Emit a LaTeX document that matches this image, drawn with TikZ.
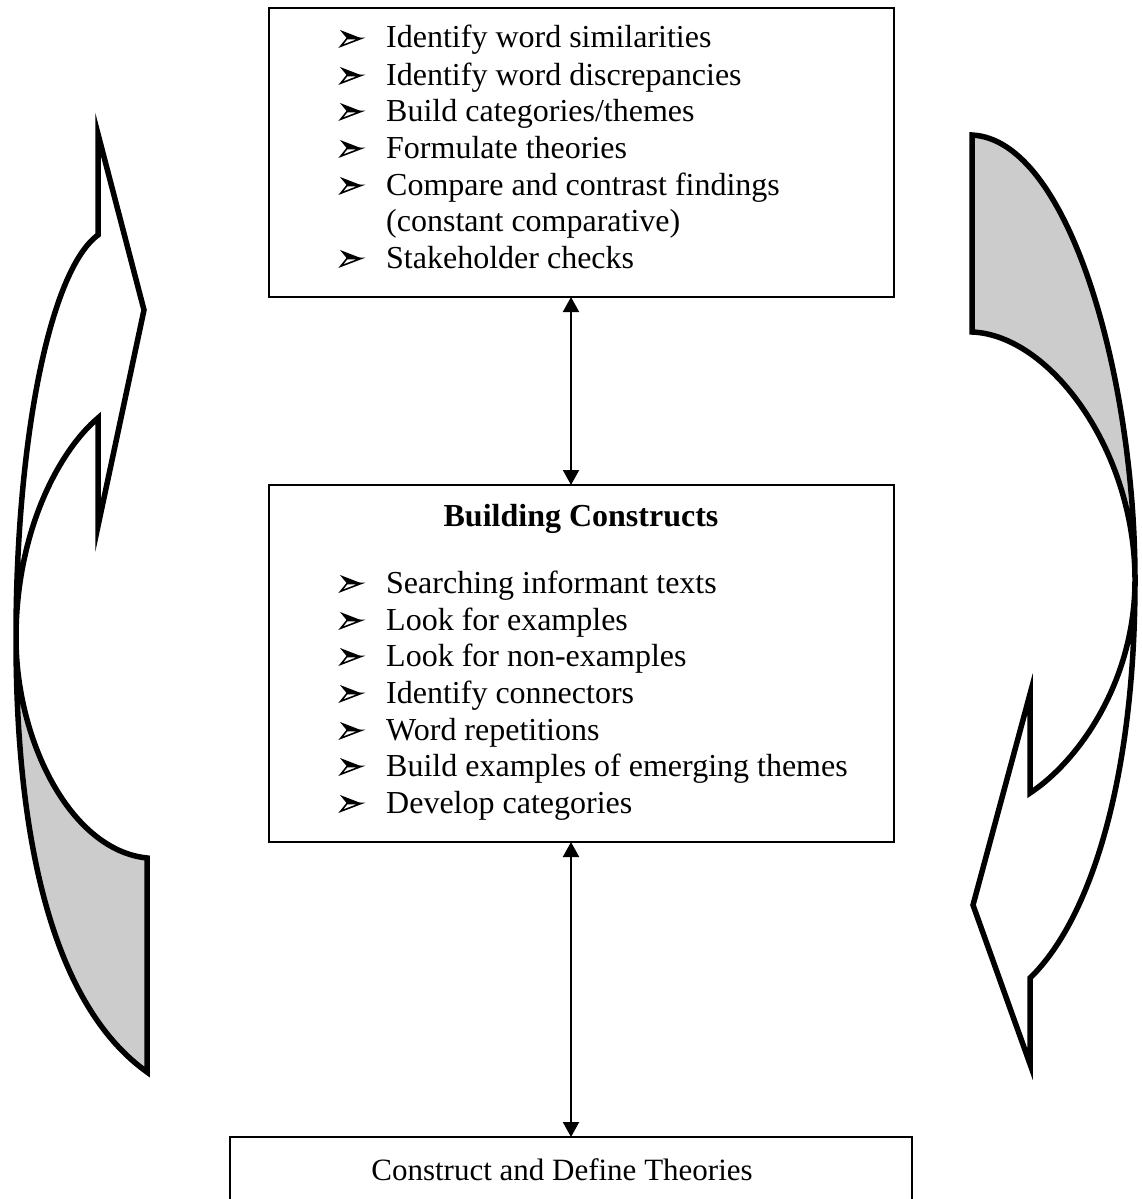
\documentclass[tikz,border=0pt]{standalone}
\usepackage{fontspec}
\setmainfont{Liberation Serif}
\usetikzlibrary{arrows.meta}
\begin{document}
\begin{tikzpicture}[x=1pt,y=-1pt,
  box/.style={draw, line width=2pt, inner sep=0pt, outer sep=0pt, anchor=north west},
  item/.style={anchor=base west, inner sep=0pt, font=\fontsize{32}{37}\selectfont},
  head/.style={anchor=base, inner sep=0pt, font=\fontsize{32}{37}\selectfont\bfseries},
  link/.style={line width=2pt, {Triangle[length=15pt,width=16pt]}-{Triangle[length=15pt,width=16pt]}},
  band/.style={line width=5.5pt, line join=miter, miter limit=30},
  shade/.style={fill=black!20},
  % three-d arrowhead bullet, drawn from its base point on the text baseline
  arrbullet/.pic={
    \fill[black] (0,-18) -- (22,-9.5) -- (7,-9.5) -- cycle;
    \filldraw[fill=white, draw=black, line width=1.6pt, line join=miter]
      (7,-9.5) -- (21,-9.5) -- (0.8,-1.8) -- cycle;
  }]
\useasboundingbox (0,0) rectangle (1141,1199);
\clip (0,0) rectangle (1141,1199);

% boxes
\node[box, minimum width=625pt, minimum height=289pt] (top) at (269,8) {};
\node[box, minimum width=625pt, minimum height=357pt] (mid) at (269,485) {};
\node[box, minimum width=682pt, minimum height=120pt] (bot) at (230,1137) {};

% first box
\foreach \y in {48, 85, 121, 158, 195, 268}
  \pic at (340,\y) {arrbullet};
\node[item] (t1) at (386,48) {Identify word similarities};
\node[item] (t2) at (386,85) {Identify word discrepancies};
\node[item] (t3) at (386,121) {Build categories/themes};
\node[item] (t4) at (386,158) {Formulate theories};
\node[item] (t5) at (386,195) {Compare and contrast findings};
\node[item] (t5b) at (386,231) {(constant comparative)};
\node[item] (t6) at (386,268) {Stakeholder checks};

% second box
\node[head] (mh) at (581,526) {Building Constructs};
\foreach \y in {593, 630, 666, 703, 740, 776, 813}
  \pic at (340,\y) {arrbullet};
\node[item] (m1) at (386,593) {Searching informant texts};
\node[item] (m2) at (386,630) {Look for examples};
\node[item] (m3) at (386,666) {Look for non-examples};
\node[item] (m4) at (386,703) {Identify connectors};
\node[item] (m5) at (386,740) {Word repetitions};
\node[item] (m6) at (386,776) {Build examples of emerging themes};
\node[item] (m7) at (386,813) {Develop categories};

% third box
\node[anchor=base, inner sep=0pt, font=\fontsize{31}{37}\selectfont] (bt) at (562,1180) {Construct and Define Theories};

% two-way connectors
\coordinate (ax) at (571,0);
\draw[link] (ax |- top.south) -- (ax |- mid.north);
\draw[link] (ax |- mid.south) -- (ax |- bot.north);

% left curved arrow: shaded back part, then the outline
\fill[shade] (16,638) .. controls (16,860) and (60,1010) .. (147,1072)
  -- (147,858) .. controls (70,850) and (16,740) .. (16,638) -- cycle;
\draw[band] (147,1072) -- (147,858) .. controls (70,850) and (16,740) .. (16,638)
  .. controls (16,530) and (60,450) .. (98,418) -- (98,526) -- (144,310) -- (98,134)
  -- (98,235) .. controls (50,270) and (16,440) .. (16,638)
  .. controls (16,860) and (60,1010) .. (147,1072) -- cycle;

% right curved arrow: shaded back part, then the outline
\fill[shade] (972,135) .. controls (1070,140) and (1135,380) .. (1135,580)
  .. controls (1135,450) and (1050,335) .. (972,332) -- cycle;
\draw[band] (972,135) .. controls (1070,140) and (1135,380) .. (1135,580)
  .. controls (1135,780) and (1090,920) .. (1030,978) -- (1030,1064) -- (973,905)
  -- (1030,694) -- (1030,793) .. controls (1080,760) and (1135,680) .. (1135,580)
  .. controls (1135,450) and (1050,335) .. (972,332) -- cycle;
\end{tikzpicture}
\end{document}
